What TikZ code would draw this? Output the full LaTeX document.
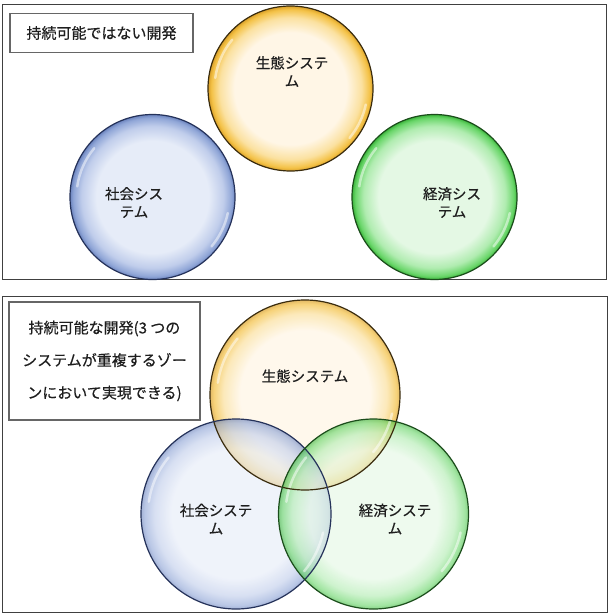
\documentclass[tikz,border=0pt]{standalone}
\usepackage{fontspec}
\newfontfamily\jp[FakeBold=0.4]{Noto Sans CJK JP}
\definecolor{yin}{HTML}{FFF6E6}
\definecolor{ymid}{HTML}{FBE1A0}
\definecolor{yrim}{HTML}{F4C247}
\definecolor{yedge}{HTML}{D9A02A}
\definecolor{yline}{HTML}{3A2C0E}
\definecolor{bin}{HTML}{E6ECF8}
\definecolor{bmid}{HTML}{C0CDEB}
\definecolor{brim}{HTML}{90A6D7}
\definecolor{bedge}{HTML}{6C84BE}
\definecolor{bline}{HTML}{25325A}
\definecolor{gin}{HTML}{E4F8E4}
\definecolor{gmid}{HTML}{B0ECB0}
\definecolor{grim}{HTML}{6AD66A}
\definecolor{gedge}{HTML}{3CB53C}
\definecolor{gline}{HTML}{1B4D1B}
\definecolor{txt}{HTML}{1E1E1E}
\pgfdeclareradialshading{ybub}{\pgfpoint{0bp}{0bp}}{color(0bp)=(yin); color(17bp)=(yin); color(21.5bp)=(ymid); color(24bp)=(yrim); color(25bp)=(yedge); color(50bp)=(yedge)}
\pgfdeclareradialshading{bbub}{\pgfpoint{0bp}{0bp}}{color(0bp)=(bin); color(17bp)=(bin); color(21.5bp)=(bmid); color(24bp)=(brim); color(25bp)=(bedge); color(50bp)=(bedge)}
\pgfdeclareradialshading{gbub}{\pgfpoint{0bp}{0bp}}{color(0bp)=(gin); color(17bp)=(gin); color(21.5bp)=(gmid); color(24bp)=(grim); color(25bp)=(gedge); color(50bp)=(gedge)}
\begin{document}
\begin{tikzpicture}[x=1pt,y=-1pt,
  bub/.style={circle, minimum size=#1, inner sep=0pt},
  ctext/.style={font=\jp\fontsize{14.5}{18}\selectfont, text=txt, align=center, inner sep=0pt},
  frame/.style={draw=black!75, line width=1pt},
  box/.style={draw=black!60, line width=1.1pt, fill=white, inner sep=0pt, text=txt},
  hl/.style={white, opacity=0.5, line width=2.5pt, line cap=round},
  outl/.style={line width=1.2pt}]
\useasboundingbox (0,0) rectangle (610,615);
\fill[white] (0,0) rectangle (610,615);
% ---------- top panel ----------
\draw[frame] (2,5) rectangle (606,279);
\node[bub=165, shading=ybub, draw=yline, outl] (ya) at (290.5,88.5) {};
\node[bub=165, shading=bbub, draw=bline, outl] (ba) at (152.5,197) {};
\node[bub=165, shading=gbub, draw=gline, outl] (ga) at (434.5,197) {};
\foreach \c in {ya,ba,ga}{
  \draw[hl] ([shift={(-140:76)}]\c.center) arc[start angle=-140, end angle=-172, radius=76];
  \draw[hl] ([shift={(12:77)}]\c.center) arc[start angle=12, end angle=40, radius=77];
}
\node[ctext] (yat) at (292,71.5) {生態システ\\ム};
\node[ctext] (bat) at (134,202.5) {社会シス\\テム};
\node[ctext] (gat) at (452,202.5) {経済シス\\テム};
\node[box, minimum width=183pt, minimum height=39pt, font=\jp\fontsize{15}{18}\selectfont] (la) at (101.5,33) {持続可能ではない開発};
% ---------- bottom panel ----------
\draw[frame] (2,296) rectangle (607,612);
\node[bub=190, shading=ybub, fill opacity=0.72] (yb) at (305,395) {};
\node[bub=190, shading=bbub, fill opacity=0.62] (bb) at (236,514) {};
\node[bub=190, shading=gbub, fill opacity=0.62] (gb) at (373.5,514) {};
\foreach \c in {yb,bb,gb}{
  \draw[hl] ([shift={(-140:88)}]\c.center) arc[start angle=-140, end angle=-172, radius=88];
  \draw[hl] ([shift={(12:89)}]\c.center) arc[start angle=12, end angle=40, radius=89];
}
\draw[yline, outl] (yb.center) circle (95);
\draw[bline, outl] (bb.center) circle (95);
\draw[gline, outl] (gb.center) circle (95);
\node[ctext] (ybt) at (305,376) {生態システム};
\node[ctext] (bbt) at (216,519) {社会システ\\ム};
\node[ctext] (gbt) at (395,519) {経済システ\\ム};
\node[box, minimum width=191pt, minimum height=118pt, align=center, font=\jp\fontsize{15}{32.5}\selectfont] (lb) at (104.5,361) {持続可能な開発(3 つの\\システムが重複するゾー\\ンにおいて実現できる)};
\end{tikzpicture}
\end{document}
